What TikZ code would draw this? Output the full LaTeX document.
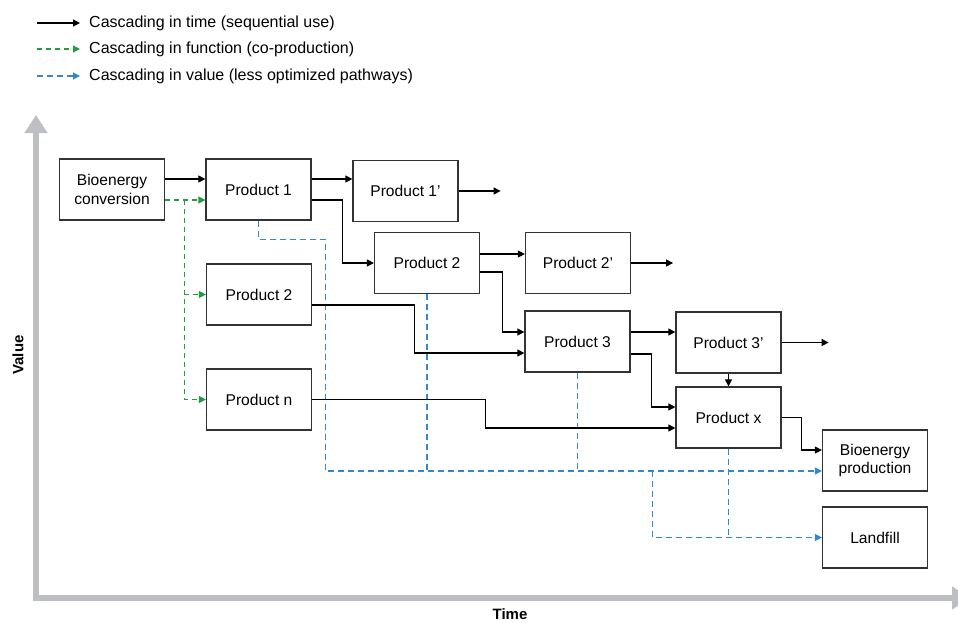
\documentclass[tikz,border=0pt]{standalone}
\usepackage{fontspec}
\setmainfont{Liberation Sans}
\usetikzlibrary{arrows.meta,calc}
\definecolor{axisgray}{RGB}{190,191,196}
\definecolor{cgreen}{RGB}{35,155,65}
\definecolor{cblue}{RGB}{50,135,205}
\definecolor{boxline}{RGB}{51,51,51}
\begin{document}
\begin{tikzpicture}[x=1pt,y=-1pt,
  box/.style={draw=boxline, line width=1.2pt, minimum width=105pt, minimum height=61pt, inner sep=0pt, align=center, font=\fontsize{15.6}{18.5}\selectfont},
  tline/.style={line width=1.1pt, -{Triangle[length=7pt,width=7pt]}},
  gline/.style={cgreen, line width=1.1pt, dash pattern=on 5pt off 4pt},
  garrow/.style={gline, -{Triangle[length=7pt,width=7pt]}},
  bline/.style={cblue, line width=1.1pt, dash pattern=on 6pt off 4pt},
  barrow/.style={bline, -{Triangle[length=7pt,width=7pt]}},
  legtext/.style={anchor=west, inner sep=0pt, font=\fontsize{16}{19}\selectfont},
  axlabel/.style={inner sep=0pt, font=\bfseries\fontsize{15}{17}\selectfont},
  axisline/.style={axisgray, line width=6pt}
]
\useasboundingbox (0,0) rectangle (958,622);

% legend
\node[legtext] (lt1) at (89,23) {Cascading in time (sequential use)};
\node[legtext] (lt2) at (89,49) {Cascading in function (co-production)};
\node[legtext] (lt3) at (89,76) {Cascading in value (less optimized pathways)};
\draw[tline] ([xshift=-52pt]lt1.west) -- ([xshift=-9pt]lt1.west);
\draw[garrow] ([xshift=-52pt]lt2.west) -- ([xshift=-9pt]lt2.west);
\draw[barrow] ([xshift=-52pt]lt3.west) -- ([xshift=-9pt]lt3.west);

% axes
\coordinate (O) at (36,598);
\coordinate (ytip) at (36,115);
\coordinate (xtip) at (970,598);
\draw[axisline, {Triangle[length=18pt,width=22pt]}-{Triangle[length=18pt,width=22pt]}] (ytip) -- (O) -- (xtip);
\node[axlabel, rotate=90] (vl) at (18,355) {Value};
\node[axlabel] (tl) at (510,614) {Time};

% boxes
\node[box] (bc) at (112,189.5) {Bioenergy\\conversion};
\node[box] (p1) at (258.5,189.5) {Product 1};
\node[box] (p1p) at (405.5,191) {Product 1’};
\node[box] (p2r) at (427,263) {Product 2};
\node[box] (p2p) at (578,263) {Product 2’};
\node[box] (p2l) at (259,294.5) {Product 2};
\node[box] (pn) at (259,399.5) {Product n};
\node[box] (p3) at (577.5,341.5) {Product 3};
\node[box] (p3p) at (728.5,342.5) {Product 3’};
\node[box] (px) at (728.5,417.5) {Product x};
\node[box] (bp) at (875,460.5) {Bioenergy\\production};
\node[box] (lf) at (875,537.5) {Landfill};

% blue dashed (value)
\coordinate (b1) at ([yshift=-10.5pt]bp.west);
\draw[barrow] (p1.south) -- ++(0,19) -- ++(67,0) |- (b1);
\draw[bline] (p2r.south) -- (p2r.south |- b1);
\draw[bline] (p3.south) -- (p3.south |- b1);
\coordinate (b2) at ([xshift=-169pt]b1);
\draw[barrow] (b2) |- (lf.west);
\draw[bline] (px.south) -- (px.south |- lf.west);

% green dashed (function)
\coordinate (g1) at ([yshift=-10.5pt]bc.east);
\draw[garrow] (g1) -- (g1 -| p1.west);
\coordinate (g2) at ([xshift=19pt]g1);
\draw[garrow] (g2) |- (pn.west);
\draw[garrow] (g2 |- p2l.west) -- (p2l.west);

% solid (time)
\coordinate (s1) at ([yshift=10.5pt]bc.east);
\draw[tline] (s1) -- (s1 -| p1.west);
\coordinate (s2) at ([yshift=10.5pt]p1.east);
\draw[tline] (s2) -- (s2 -| p1p.west);
\draw[tline] ([yshift=-10.5pt]p1.east) -- ++(31,0) |- (p2r.west);
\coordinate (s3) at ([yshift=9pt]p2r.east);
\draw[tline] (s3) -- (s3 -| p2p.west);
\draw[tline] ([yshift=-9pt]p2r.east) -- ++(22,0) |- ([yshift=9.5pt]p3.west);
\draw[tline] ([yshift=-10.5pt]p2l.east) -- ++(102,0) |- ([yshift=-11.5pt]p3.west);
\draw[tline] (pn.east) -- ++(173,0) |- ([yshift=-10.5pt]px.west);
\coordinate (s4) at ([yshift=9.5pt]p3.east);
\draw[tline] (s4) -- (s4 -| p3p.west);
\draw[tline] ([yshift=-12.5pt]p3.east) -- ++(21,0) |- ([yshift=10.5pt]px.west);
\draw[tline] (p3p.south) -- (px.north);
\draw[tline] (px.east) -- ++(20,0) |- ([yshift=10.5pt]bp.west);
\draw[tline] (p1p.east) -- ++(42,0);
\draw[tline] (p2p.east) -- ++(42,0);
\draw[tline] (p3p.east) -- ++(47,0);
\end{tikzpicture}
\end{document}
